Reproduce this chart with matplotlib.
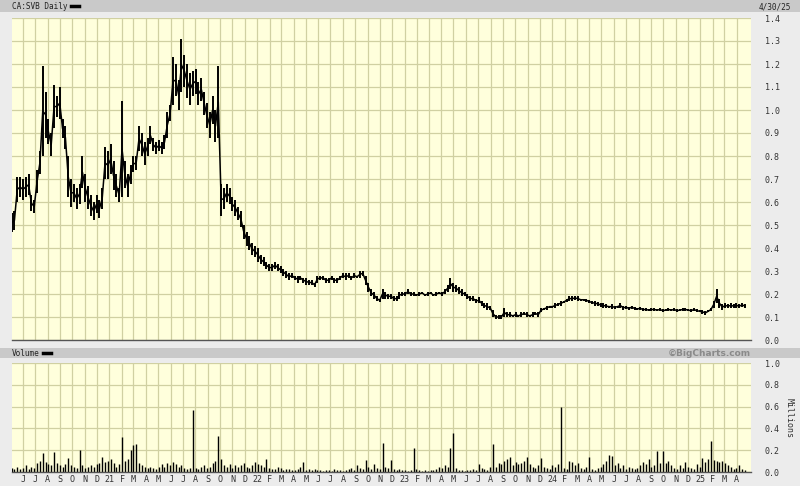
import matplotlib
matplotlib.use("Agg")
import matplotlib.pyplot as plt
import matplotlib.ticker as mticker
import pandas as pd
from matplotlib.patches import Rectangle
from matplotlib.lines import Line2D

# weekly bars, first week starting 2020-05-04
weeks = pd.date_range("2020-05-04", periods=260, freq="7D")

price_high = [
    0.55, 0.56, 0.71, 0.71, 0.70, 0.71, 0.72, 0.63, 0.61, 0.74,
    0.82, 1.19, 1.08, 0.96, 0.90, 1.11, 1.06, 1.10, 0.96, 0.93,
    0.80, 0.70, 0.68, 0.66, 0.68, 0.80, 0.72, 0.67, 0.63, 0.60,
    0.63, 0.61, 0.66, 0.84, 0.82, 0.85, 0.78, 0.72, 0.66, 1.04,
    0.78, 0.72, 0.76, 0.80, 0.80, 0.93, 0.90, 0.86, 0.88, 0.93,
    0.88, 0.86, 0.87, 0.86, 0.89, 0.99, 1.02, 1.23, 1.20, 1.13,
    1.31, 1.24, 1.20, 1.16, 1.17, 1.18, 1.12, 1.14, 1.08, 1.03,
    0.99, 1.06, 1.00, 1.19, 0.68, 0.66, 0.68, 0.66, 0.62, 0.61,
    0.58, 0.56, 0.50, 0.47, 0.45, 0.42, 0.41, 0.40, 0.37, 0.36,
    0.34, 0.33, 0.33, 0.34, 0.33, 0.32, 0.31, 0.30, 0.29, 0.29,
    0.28, 0.28, 0.28, 0.27, 0.27, 0.26, 0.26, 0.25, 0.28, 0.28,
    0.28, 0.27, 0.27, 0.28, 0.27, 0.27, 0.28, 0.29, 0.29, 0.29,
    0.28, 0.29, 0.28, 0.30, 0.30, 0.28, 0.25, 0.22, 0.21, 0.19,
    0.18, 0.22, 0.21, 0.20, 0.20, 0.19, 0.19, 0.21, 0.21, 0.21,
    0.22, 0.21, 0.21, 0.20, 0.21, 0.21, 0.20, 0.21, 0.21, 0.20,
    0.21, 0.21, 0.21, 0.22, 0.24, 0.27, 0.25, 0.24, 0.23, 0.22,
    0.21, 0.20, 0.19, 0.19, 0.18, 0.185, 0.17, 0.16, 0.16, 0.15,
    0.13, 0.11, 0.11, 0.11, 0.14, 0.12, 0.12, 0.11, 0.12, 0.11,
    0.12, 0.12, 0.12, 0.11, 0.12, 0.12, 0.12, 0.14, 0.14, 0.15,
    0.15, 0.15, 0.16, 0.16, 0.17, 0.17, 0.18, 0.19, 0.19, 0.19,
    0.19, 0.18, 0.18, 0.18, 0.175, 0.17, 0.17, 0.165, 0.16, 0.16,
    0.155, 0.15, 0.155, 0.15, 0.15, 0.16, 0.15, 0.15, 0.145, 0.15,
    0.145, 0.14, 0.145, 0.14, 0.14, 0.135, 0.14, 0.14, 0.135, 0.14,
    0.135, 0.135, 0.14, 0.135, 0.14, 0.135, 0.135, 0.14, 0.14, 0.135,
    0.135, 0.14, 0.135, 0.13, 0.13, 0.125, 0.13, 0.14, 0.17, 0.22,
    0.18, 0.155, 0.16, 0.155, 0.16, 0.155, 0.16, 0.155, 0.16, 0.155,
]
price_low = [
    0.47, 0.48, 0.60, 0.62, 0.61, 0.62, 0.63, 0.56, 0.55, 0.64,
    0.72, 0.80, 0.88, 0.85, 0.80, 0.92, 0.97, 0.96, 0.88, 0.83,
    0.62, 0.58, 0.60, 0.57, 0.59, 0.66, 0.60, 0.57, 0.54, 0.52,
    0.55, 0.53, 0.57, 0.70, 0.70, 0.72, 0.65, 0.62, 0.60, 0.62,
    0.66, 0.62, 0.68, 0.73, 0.74, 0.82, 0.80, 0.76, 0.80, 0.85,
    0.82, 0.81, 0.82, 0.81, 0.83, 0.88, 0.95, 1.02, 1.06, 1.00,
    1.08, 1.10, 1.05, 1.02, 1.06, 1.07, 1.02, 1.04, 0.98, 0.92,
    0.88, 0.94, 0.86, 0.88, 0.54, 0.57, 0.60, 0.59, 0.56, 0.54,
    0.52, 0.49, 0.44, 0.41, 0.39, 0.37, 0.36, 0.34, 0.33, 0.32,
    0.31, 0.30, 0.30, 0.31, 0.30, 0.29, 0.28, 0.27, 0.26, 0.27,
    0.26, 0.25, 0.26, 0.25, 0.24, 0.24, 0.24, 0.23, 0.25, 0.26,
    0.26, 0.25, 0.25, 0.26, 0.25, 0.25, 0.26, 0.27, 0.26, 0.27,
    0.26, 0.27, 0.27, 0.27, 0.28, 0.24, 0.21, 0.19, 0.18, 0.17,
    0.165, 0.18, 0.18, 0.18, 0.18, 0.17, 0.17, 0.18, 0.19, 0.19,
    0.20, 0.19, 0.19, 0.19, 0.19, 0.20, 0.19, 0.19, 0.20, 0.19,
    0.19, 0.20, 0.19, 0.20, 0.21, 0.22, 0.21, 0.21, 0.20, 0.19,
    0.19, 0.18, 0.17, 0.17, 0.16, 0.16, 0.15, 0.14, 0.13, 0.13,
    0.10, 0.09, 0.09, 0.09, 0.10, 0.10, 0.10, 0.10, 0.10, 0.10,
    0.10, 0.11, 0.10, 0.10, 0.10, 0.11, 0.10, 0.12, 0.13, 0.13,
    0.14, 0.14, 0.14, 0.15, 0.15, 0.16, 0.165, 0.17, 0.17, 0.175,
    0.17, 0.17, 0.17, 0.165, 0.16, 0.155, 0.15, 0.15, 0.145, 0.14,
    0.14, 0.14, 0.135, 0.135, 0.14, 0.14, 0.13, 0.135, 0.13, 0.135,
    0.13, 0.13, 0.13, 0.125, 0.125, 0.125, 0.125, 0.125, 0.125, 0.125,
    0.12, 0.125, 0.125, 0.125, 0.125, 0.12, 0.125, 0.125, 0.125, 0.125,
    0.12, 0.125, 0.12, 0.12, 0.115, 0.11, 0.12, 0.125, 0.14, 0.16,
    0.14, 0.13, 0.14, 0.14, 0.14, 0.14, 0.14, 0.14, 0.145, 0.14,
]
# weekly peak volume, millions of shares
volume = [
    0.04, 0.03, 0.05, 0.03, 0.04, 0.06, 0.03, 0.05, 0.04, 0.08,
    0.10, 0.17, 0.09, 0.07, 0.06, 0.18, 0.08, 0.06, 0.05, 0.07,
    0.13, 0.06, 0.05, 0.04, 0.20, 0.06, 0.04, 0.05, 0.06, 0.05,
    0.07, 0.08, 0.14, 0.09, 0.10, 0.12, 0.08, 0.05, 0.07, 0.32,
    0.10, 0.12, 0.20, 0.25, 0.26, 0.08, 0.06, 0.05, 0.04, 0.05,
    0.04, 0.03, 0.05, 0.07, 0.05, 0.08, 0.06, 0.09, 0.07, 0.05,
    0.06, 0.04, 0.03, 0.04, 0.57, 0.04, 0.03, 0.05, 0.06, 0.04,
    0.05, 0.08, 0.10, 0.33, 0.12, 0.06, 0.05, 0.07, 0.04, 0.06,
    0.05, 0.06, 0.08, 0.05, 0.04, 0.06, 0.09, 0.07, 0.06, 0.05,
    0.12, 0.04, 0.03, 0.03, 0.05, 0.04, 0.02, 0.03, 0.03, 0.02,
    0.02, 0.03, 0.05, 0.09, 0.02, 0.03, 0.02, 0.03, 0.02, 0.02,
    0.01, 0.02, 0.02, 0.01, 0.03, 0.02, 0.02, 0.01, 0.02, 0.03,
    0.04, 0.02, 0.06, 0.04, 0.03, 0.11, 0.05, 0.03, 0.07, 0.04,
    0.03, 0.27, 0.05, 0.04, 0.11, 0.03, 0.02, 0.03, 0.02, 0.02,
    0.01, 0.02, 0.22, 0.03, 0.02, 0.01, 0.02, 0.01, 0.02, 0.02,
    0.03, 0.05, 0.04, 0.06, 0.05, 0.22, 0.36, 0.04, 0.02, 0.02,
    0.01, 0.02, 0.02, 0.03, 0.02, 0.07, 0.04, 0.03, 0.02, 0.05,
    0.26, 0.05, 0.08, 0.07, 0.10, 0.12, 0.14, 0.06, 0.09, 0.07,
    0.08, 0.10, 0.14, 0.07, 0.05, 0.04, 0.06, 0.13, 0.05, 0.04,
    0.03, 0.06, 0.05, 0.07, 0.60, 0.04, 0.03, 0.10, 0.09, 0.06,
    0.08, 0.04, 0.03, 0.05, 0.14, 0.03, 0.02, 0.04, 0.05, 0.07,
    0.10, 0.16, 0.15, 0.06, 0.08, 0.04, 0.06, 0.03, 0.05, 0.04,
    0.03, 0.04, 0.06, 0.09, 0.07, 0.12, 0.05, 0.06, 0.19, 0.08,
    0.19, 0.08, 0.10, 0.06, 0.04, 0.03, 0.06, 0.04, 0.09, 0.05,
    0.04, 0.03, 0.07, 0.05, 0.13, 0.09, 0.12, 0.28, 0.11, 0.10,
    0.09, 0.10, 0.08, 0.06, 0.05, 0.03, 0.04, 0.06, 0.03, 0.02,
]

price_ticks = [0.0, 0.1, 0.2, 0.3, 0.4, 0.5, 0.6, 0.7, 0.8, 0.9, 1.0, 1.1, 1.2, 1.3, 1.4]
volume_ticks = [0.0, 0.2, 0.4, 0.6, 0.8, 1.0]
month_starts = pd.date_range("2020-06-01", "2025-04-01", freq="MS")
month_labels = [f"{d.year % 100:02d}" if d.month == 1 else d.strftime("%b")[0] for d in month_starts]

x_start = pd.Timestamp("2020-05-05")
x_end = pd.Timestamp("2025-05-06")

W, H = 800, 486
BG = "#ececec"
BAR = "#c9c9c9"
PANEL = "#ffffdc"
GRID = "#d0d0a2"
MONO = "DejaVu Sans Mono"

fig = plt.figure(figsize=(W / 100, H / 100), dpi=100, facecolor=BG)


def fx(px):
    return px / W


def fy(py):
    return 1 - py / H


# header strips
fig.add_artist(Rectangle((0, fy(12)), 1, 12 / H, transform=fig.transFigure,
                         facecolor=BAR, edgecolor="none"))
fig.add_artist(Rectangle((0, fy(358)), 1, 10 / H, transform=fig.transFigure,
                         facecolor=BAR, edgecolor="none"))

ax_p = fig.add_axes([fx(12), fy(340), fx(739), 322 / H])
ax_v = fig.add_axes([fx(12), fy(472), fx(739), 109 / H])

for ax in (ax_p, ax_v):
    ax.set_facecolor(PANEL)
    ax.set_xlim(x_start, x_end)
    ax.set_xticks(month_starts)
    ax.grid(True, color=GRID, linewidth=0.9)
    ax.set_axisbelow(True)
    for s in ("top", "left", "right"):
        ax.spines[s].set_visible(False)
    ax.spines["bottom"].set_color("#555555")
    ax.spines["bottom"].set_linewidth(1.0)
    ax.yaxis.tick_right()
    ax.tick_params(axis="both", length=0, labelsize=6.0, colors="#333333")

# price bars
mid = [(h + l) / 2 for h, l in zip(price_high, price_low)]
ax_p.vlines(weeks, price_low, price_high, color="black", linewidth=1.4)
ax_p.plot(weeks, mid, color="black", linewidth=1.1)
ax_p.set_ylim(0, 1.4)
ax_p.set_yticks(price_ticks)
ax_p.yaxis.set_major_formatter(mticker.FormatStrFormatter("%.1f"))
ax_p.tick_params(axis="y", pad=10)
ax_p.set_xticklabels([])

# volume bars
ax_v.vlines(weeks, 0, volume, color="black", linewidth=1.0)
ax_v.set_ylim(0, 1.0)
ax_v.set_yticks(volume_ticks)
ax_v.yaxis.set_major_formatter(mticker.FormatStrFormatter("%.1f"))
ax_v.tick_params(axis="y", pad=10)
ax_v.set_xticklabels(month_labels)
ax_v.tick_params(axis="x", pad=2)

for lab in ax_p.get_yticklabels() + ax_v.get_yticklabels() + ax_v.get_xticklabels():
    lab.set_family(MONO)

# captions
fig.text(fx(12), fy(6.5), "CA:SVB Daily", family=MONO, fontsize=5.6, va="center", color="#222222")
fig.add_artist(Line2D([fx(71), fx(79)], [fy(6.5), fy(6.5)], transform=fig.transFigure,
                      color="black", linewidth=2.5))
fig.text(fx(791), fy(6.5), "4/30/25", family=MONO, fontsize=5.6, va="center", ha="right", color="#222222")
fig.text(fx(12), fy(353), "Volume", family=MONO, fontsize=5.6, va="center", color="#222222")
fig.add_artist(Line2D([fx(43), fx(51)], [fy(353), fy(353)], transform=fig.transFigure,
                      color="black", linewidth=2.5))
fig.text(fx(751), fy(353), "©BigCharts.com", fontsize=6.5, fontweight="bold", va="center",
         ha="right", color="#8a8a8a")
fig.text(fx(789), fy(418), "Millions", family=MONO, fontsize=6, rotation=270,
         va="center", ha="center", color="#333333")

fig.savefig("out.png", dpi=100, facecolor=BG)
